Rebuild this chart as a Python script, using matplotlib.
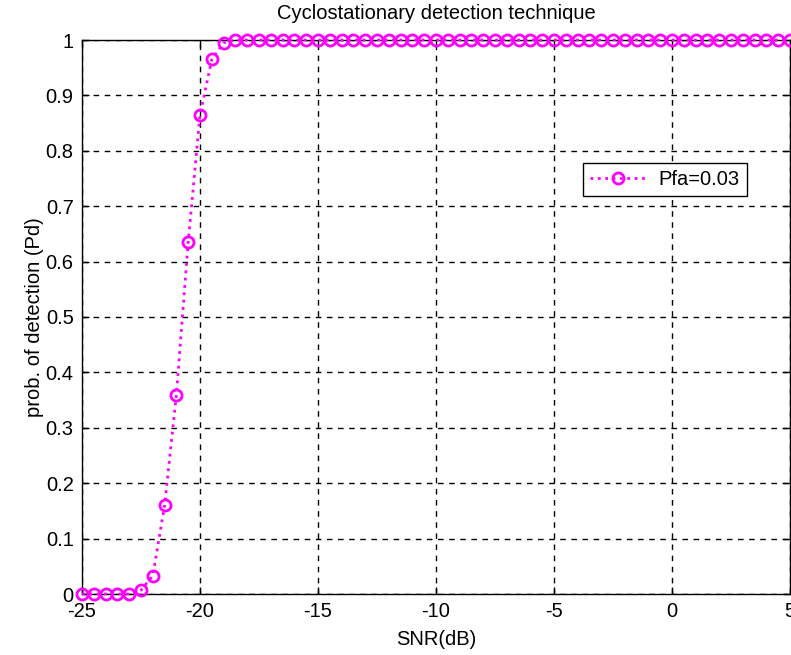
import numpy as np
import matplotlib
matplotlib.use("Agg")
import matplotlib.pyplot as plt

plt.rcParams['font.family'] = ['Liberation Sans', 'DejaVu Sans']

snr_db = [-25 + 0.5 * i for i in range(61)]
pd_low = [0, 0, 0, 0, 0, 0.007, 0.033, 0.16, 0.36, 0.635, 0.865, 0.965, 0.995]
pd_vals = pd_low + [1.0] * (len(snr_db) - len(pd_low))

x_ticks = [-25, -20, -15, -10, -5, 0, 5]
y_ticks = [0, 0.1, 0.2, 0.3, 0.4, 0.5, 0.6, 0.7, 0.8, 0.9, 1]
y_tick_labels = ['0', '0.1', '0.2', '0.3', '0.4', '0.5', '0.6', '0.7', '0.8', '0.9', '1']

FS = 14.5

fig = plt.figure(figsize=(7.91, 6.55), dpi=100)
ax = fig.add_axes([82/791, 1 - 594/655, (790 - 82)/791, (594 - 40)/655])

ax.plot(snr_db, pd_vals, linestyle=':', color='#ff00ff', linewidth=2,
        marker='o', markersize=8, markerfacecolor='none', markeredgewidth=2,
        markeredgecolor='#ff00ff', label='Pfa=0.03', clip_on=False, zorder=5)

ax.set_xlim(-25, 5)
ax.set_ylim(0, 1)
ax.set_xticks(x_ticks)
ax.set_xticklabels([str(t) for t in x_ticks])
ax.set_yticks(y_ticks)
ax.set_yticklabels(y_tick_labels)
ax.tick_params(direction='in', length=5, labelsize=FS, top=True, right=True, width=1)
ax.tick_params(axis='y', pad=6)
ax.tick_params(axis='x', pad=6)
ax.grid(True, color='black', linestyle=(0, (4, 4)), linewidth=1)
for s in ax.spines.values():
    s.set_linewidth(1)

ax.set_title('Cyclostationary detection technique', fontsize=FS, pad=15)
ax.set_xlabel('SNR(dB)', fontsize=FS, labelpad=6)
ax.set_ylabel('prob. of detection (Pd)', fontsize=FS, labelpad=1)

leg = ax.legend(loc='upper left', bbox_to_anchor=(0.7076, 0.778), fontsize=FS,
                fancybox=False, framealpha=1, edgecolor='black', borderpad=0.35,
                handlelength=2.8, handletextpad=0.6, borderaxespad=0)
leg.get_frame().set_linewidth(1)

fig.savefig('out.png', dpi=100)
